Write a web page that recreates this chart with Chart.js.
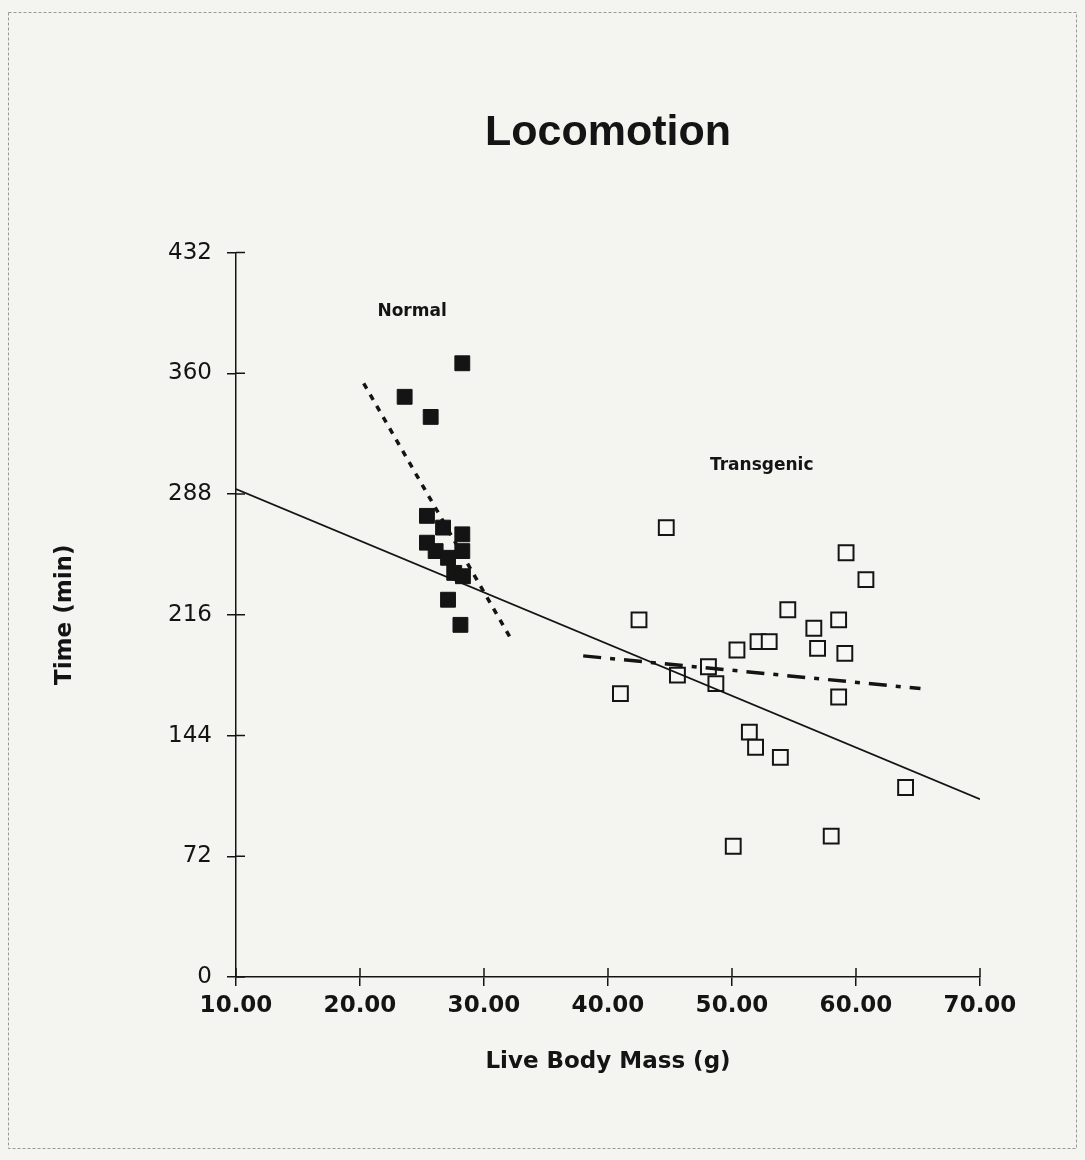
<!DOCTYPE html>
<html>
<head>
<meta charset="utf-8">
<script src="https://cdn.jsdelivr.net/npm/chart.js@4/dist/chart.umd.min.js"></script>
<style>
  html, body { margin: 0; padding: 0; background: #f4f4f1; }
  #wrap { width: 1085px; height: 1160px; }
</style>
</head>
<body>
<div id="wrap"><canvas id="loco" width="1085" height="1160"></canvas></div>
<script>
/* Locomotion: time vs live body mass */

// normal mice (filled squares)
const normalMass = [28.25, 23.6, 25.7, 25.4, 26.7, 28.25, 25.4, 26.1, 28.25, 27.1, 27.6, 28.3, 27.1, 28.1];
const normalTime = [366, 346, 334, 275, 268, 264, 259, 254, 254, 250, 241, 239, 225, 210];

// transgenic mice (open squares)
const transMass = [44.7, 59.2, 60.8, 42.5, 54.5, 58.6, 56.6, 52.1, 53.0, 50.4, 56.9, 59.1,
  48.1, 45.6, 48.7, 41.0, 58.6, 51.4, 51.9, 53.9, 64.0, 58.0, 50.1];
const transTime = [268, 253, 237, 213, 219, 213, 208, 200, 200, 195, 196, 193,
  185, 180, 175, 169, 167, 146, 137, 131, 113, 84, 78];

// regression lines (end points, data units)
const allFitMass = [10, 70];
const allFitTime = [291, 106];
const normalFitMass = [20.3, 32.3];
const normalFitTime = [354, 200];
const transFitMass = [38.0, 65.2];
const transFitTime = [191.5, 172];

// axis ticks
const xTicks = [10, 20, 30, 40, 50, 60, 70];
const yTicks = [0, 72, 144, 216, 288, 360, 432];

// group labels
const groupNames = ['Normal', 'Transgenic'];
const groupMass = [24.2, 52.4];
const groupTime = [397, 305];

const ink = '#141414';

function pts(xs, ys) {
  return xs.map((x, i) => ({ x: x, y: ys[i] }));
}

const paperPlugin = {
  id: 'paper',
  beforeDraw(chart) {
    const ctx = chart.ctx;
    ctx.save();
    ctx.fillStyle = '#f4f4f1';
    ctx.fillRect(0, 0, chart.width, chart.height);
    ctx.strokeStyle = '#9a9a96';
    ctx.lineWidth = 1;
    ctx.setLineDash([3, 2]);
    ctx.strokeRect(8.5, 12.5, chart.width - 17, chart.height - 24);
    ctx.restore();
  }
};

// ticks that cross the axis, plus the group labels
const extrasPlugin = {
  id: 'extras',
  afterDraw(chart) {
    const ctx = chart.ctx;
    const xs = chart.scales.x, ys = chart.scales.y;
    const area = chart.chartArea;
    ctx.save();
    ctx.strokeStyle = ink;
    ctx.lineWidth = 1.5;
    ctx.beginPath();
    yTicks.forEach(v => {
      const p = ys.getPixelForValue(v);
      ctx.moveTo(area.left, p);
      ctx.lineTo(area.left + 9, p);
    });
    xTicks.forEach(v => {
      const p = xs.getPixelForValue(v);
      ctx.moveTo(p, area.bottom);
      ctx.lineTo(p, area.bottom - 9);
    });
    ctx.stroke();

    ctx.fillStyle = ink;
    ctx.font = 'bold 17px "DejaVu Sans"';
    ctx.textAlign = 'center';
    ctx.textBaseline = 'middle';
    groupNames.forEach((name, i) => {
      ctx.fillText(name, xs.getPixelForValue(groupMass[i]), ys.getPixelForValue(groupTime[i]));
    });
    ctx.restore();
  }
};

const dataloco = {
  datasets: [
    {
      label: 'All fit',
      type: 'line',
      data: pts(allFitMass, allFitTime),
      borderColor: ink,
      borderWidth: 1.8,
      pointRadius: 0,
      fill: false
    },
    {
      label: 'Normal fit',
      type: 'line',
      data: pts(normalFitMass, normalFitTime),
      borderColor: ink,
      borderWidth: 3.5,
      borderDash: [6, 7],
      pointRadius: 0,
      fill: false
    },
    {
      label: 'Transgenic fit',
      type: 'line',
      data: pts(transFitMass, transFitTime),
      borderColor: ink,
      borderWidth: 3.5,
      borderDash: [18, 9, 5, 9],
      pointRadius: 0,
      fill: false
    },
    {
      label: 'Normal',
      data: pts(normalMass, normalTime),
      pointStyle: 'rect',
      pointRadius: 10.5,
      backgroundColor: ink,
      borderColor: ink,
      borderWidth: 1
    },
    {
      label: 'Transgenic',
      data: pts(transMass, transTime),
      pointStyle: 'rect',
      pointRadius: 10.5,
      backgroundColor: '#f7f7f4',
      borderColor: ink,
      borderWidth: 2
    }
  ]
};

const configloco = {
  type: 'scatter',
  data: dataloco,
  options: {
    responsive: false,
    animation: false,
    layout: { padding: { left: 0, right: 105, top: 0, bottom: 0 } },
    plugins: {
      legend: { display: false },
      tooltip: { enabled: false },
      title: {
        display: true,
        text: 'Locomotion',
        fullSize: false,
        color: ink,
        font: { family: '"Liberation Sans", Arial, sans-serif', size: 43, weight: 'bold' },
        padding: { top: 107, bottom: 94 }
      }
    },
    scales: {
      x: {
        type: 'linear',
        min: 10,
        max: 70,
        afterFit(scale) { scale.height = 183; },
        afterBuildTicks(scale) { scale.ticks = xTicks.map(v => ({ value: v })); },
        grid: { drawOnChartArea: false, drawTicks: true, tickLength: 9, color: ink, lineWidth: 1.5 },
        border: { display: true, color: ink, width: 1.5 },
        ticks: {
          color: ink,
          padding: 6,
          maxRotation: 0,
          font: { family: '"DejaVu Sans"', size: 23, weight: 'bold' },
          callback: v => v.toFixed(2)
        },
        title: {
          display: true,
          text: 'Live Body Mass (g)',
          color: ink,
          font: { family: '"DejaVu Sans"', size: 23, weight: 'bold' },
          padding: { top: 0, bottom: 84 }
        }
      },
      y: {
        type: 'linear',
        min: 0,
        max: 432,
        afterFit(scale) { scale.width = 236; },
        afterBuildTicks(scale) { scale.ticks = yTicks.map(v => ({ value: v })); },
        grid: { drawOnChartArea: false, drawTicks: true, tickLength: 9, color: ink, lineWidth: 1.5 },
        border: { display: true, color: ink, width: 1.5 },
        ticks: {
          color: ink,
          padding: 15,
          font: { family: '"DejaVu Sans"', size: 23 }
        },
        title: {
          display: true,
          text: 'Time (min)',
          color: ink,
          font: { family: '"DejaVu Sans"', size: 23, weight: 'bold' },
          padding: { top: 51, bottom: 0 }
        }
      }
    }
  },
  plugins: [paperPlugin, extrasPlugin]
};

const chartloco = new Chart(
  document.getElementById('loco'),
  configloco
);
</script>
</body>
</html>
